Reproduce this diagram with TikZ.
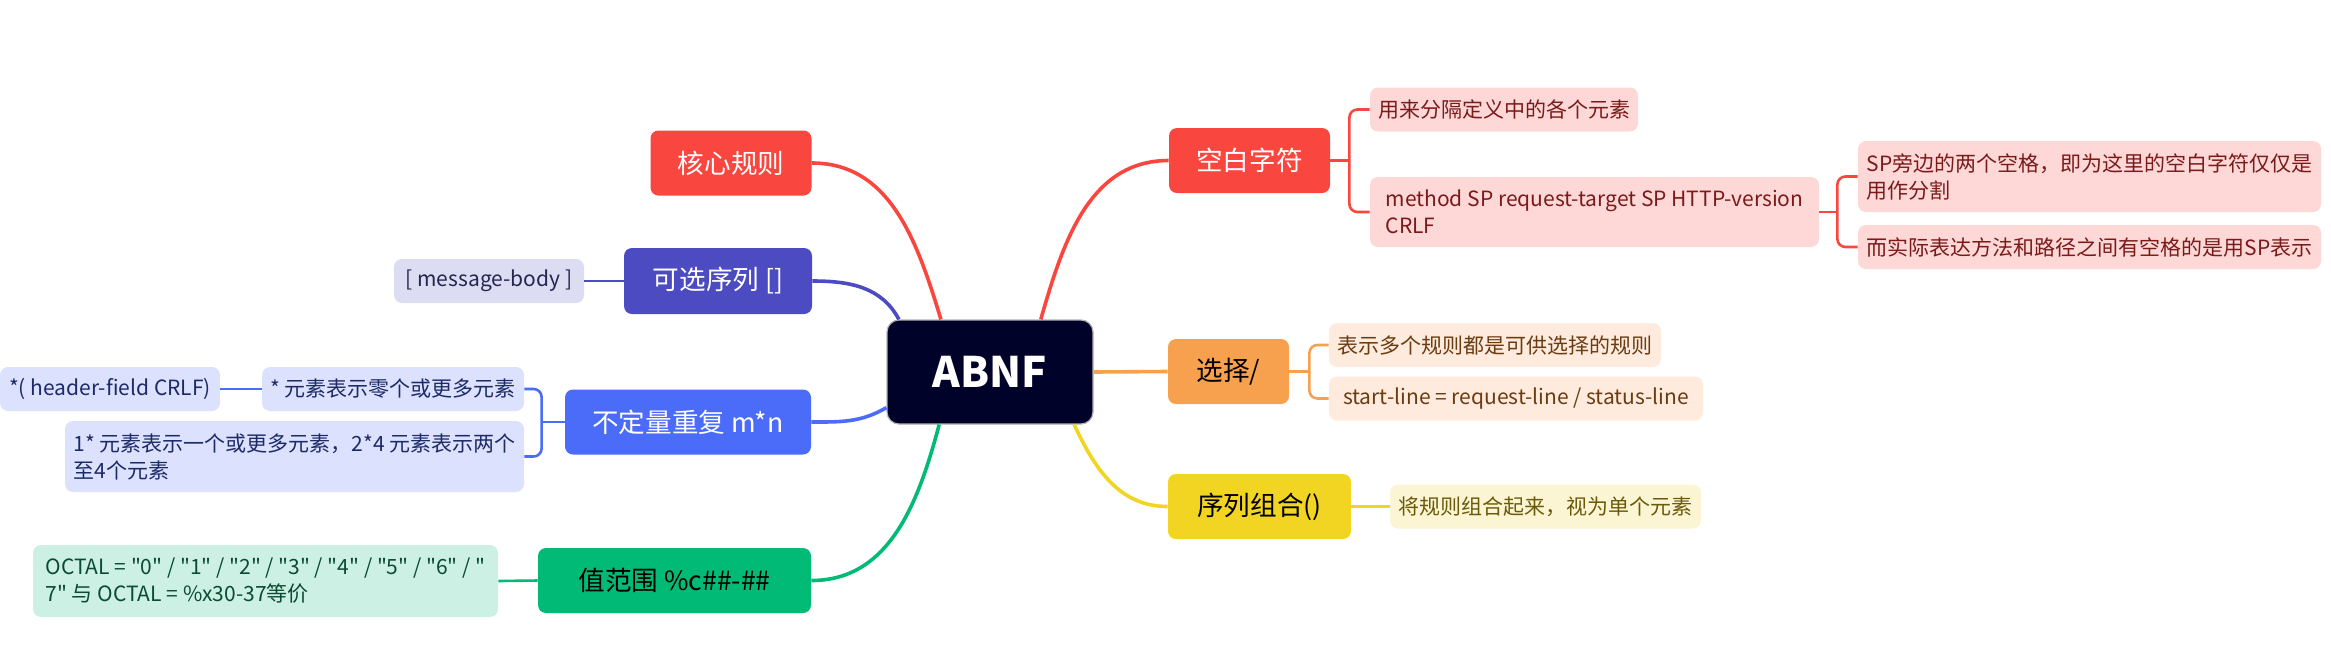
\documentclass[tikz,border=0pt]{standalone}
\usepackage{fontspec}
\newfontfamily\mapfont{Noto Sans CJK SC}
\usepackage{tikz}
\definecolor{MapRoot}{HTML}{000229}
\definecolor{MapRed}{HTML}{F9473F}
\definecolor{MapIndigo}{HTML}{4C4BC2}
\definecolor{MapBlue}{HTML}{4B6CF8}
\definecolor{MapGreen}{HTML}{00BA76}
\definecolor{MapOrange}{HTML}{F7A14F}
\definecolor{MapYellow}{HTML}{F2D422}
\definecolor{MapRedL}{HTML}{FED8D7}
\definecolor{MapIndigoL}{HTML}{DCDCF2}
\definecolor{MapBlueL}{HTML}{DCE2FD}
\definecolor{MapGreenL}{HTML}{CCF1E4}
\definecolor{MapOrangeL}{HTML}{FEEBDD}
\definecolor{MapYellowL}{HTML}{FCF5D3}
\definecolor{MapRedT}{HTML}{7A1A1A}
\definecolor{MapIndigoT}{HTML}{25254F}
\definecolor{MapBlueT}{HTML}{1C2A68}
\definecolor{MapGreenT}{HTML}{0B4A33}
\definecolor{MapOrangeT}{HTML}{6B3B12}
\definecolor{MapYellowT}{HTML}{6A5A0A}

\begin{document}
\begin{tikzpicture}[x=0.5pt,y=-0.5pt,
   root/.style={fill=MapRoot,draw=gray!60,line width=0.6pt,text=white,rounded corners=6pt,minimum width=103pt,minimum height=52pt,font=\mapfont\bfseries\fontsize{21}{25}\selectfont},
   topic/.style n args={3}{fill=#1,text=#2,minimum width=#3,minimum height=32.5pt,rounded corners=4pt,font=\mapfont\fontsize{13.3}{16}\selectfont},
   sub/.style n args={3}{fill=#1,text=#2,minimum width=#3,minimum height=22pt,rounded corners=4pt,align=left,font=\mapfont\fontsize{10.5}{13.5}\selectfont},
   link/.style={#1,line width=1.8pt},
   brk/.style={#1,line width=1.3pt,rounded corners=4pt}]
\useasboundingbox (0,0) rectangle (2331,660);
\node[root] (root) at (990,372) {ABNF};
% left side
\node[topic={MapRed}{white}{80.5pt}] (hx) at (731,163) {核心规则};
\node[topic={MapIndigo}{white}{94pt},minimum height=33pt] (kx) at (718,281) {可选序列 []};
\node[sub={MapIndigoL}{MapIndigoT}{95pt}] (mb) at (489,281) {[ message-body ]};
\node[topic={MapBlue}{white}{123pt}] (bd) at (688,422) {不定量重复 m*n};
\node[sub={MapBlueL}{MapBlueT}{131pt}] (r0) at (393,389) {* 元素表示零个或更多元素};
\node[sub={MapBlueL}{MapBlueT}{110pt}] (hf) at (110,389) {*( header-field CRLF)};
\node[sub={MapBlueL}{MapBlueT}{229.5pt},minimum height=35.5pt] (r1) at (294.5,456.5)
   {1* 元素表示一个或更多元素，2*4 元素表示两个\\至4个元素};
\node[topic={MapGreen}{black}{136.5pt}] (zf) at (674.5,580.5) {值范围 \%c\#\#-\#\#};
\node[sub={MapGreenL}{MapGreenT}{232.5pt},minimum height=36pt] (oc) at (265.5,581)
   {OCTAL = "0" / "1" / "2" / "3" / "4" / "5" / "6" / "\\7" 与 OCTAL = \%x30-37等价};
% right side
\node[topic={MapRed}{white}{80.5pt}] (kb) at (1249.5,160.5) {空白字符};
\node[sub={MapRedL}{MapRedT}{134pt}] (fg) at (1504,109.5) {用来分隔定义中的各个元素};
\node[sub={MapRedL}{MapRedT}{224.5pt},minimum height=35pt] (ms) at (1594.5,212)
   {method SP request-target SP HTTP-version\\CRLF};
\node[sub={MapRedL}{MapRedT}{231.5pt},minimum height=35.5pt] (sp) at (2089.5,176.5)
   {SP旁边的两个空格，即为这里的空白字符仅仅是\\用作分割};
\node[sub={MapRedL}{MapRedT}{231.5pt}] (sj) at (2089.5,247) {而实际表达方法和路径之间有空格的是用SP表示};
\node[topic={MapOrange}{black}{60.5pt}] (xz) at (1228.5,371.5) {选择/};
\node[sub={MapOrangeL}{MapOrangeT}{166pt}] (dg) at (1495,345) {表示多个规则都是可供选择的规则};
\node[sub={MapOrangeL}{MapOrangeT}{187pt}] (sl) at (1516,398.5) {start-line = request-line / status-line};
\node[topic={MapYellow}{black}{91.5pt}] (zh) at (1259.5,506.5) {序列组合()};
\node[sub={MapYellowL}{MapYellowT}{155.5pt}] (jg) at (1545.5,506.5) {将规则组合起来，视为单个元素};
% branches
\draw[link=MapRed] (root.133) to[out=107,in=0] (hx.east);
\draw[link=MapIndigo] (root.150) to[out=118,in=0] (kx.east);
\draw[link=MapBlue] (root.199) to[out=210,in=0] (bd.east);
\draw[link=MapGreen] (root.226) to[out=255,in=0] (zf.east);
\draw[link=MapRed] (root.46) to[out=74,in=180] (kb.west);
\draw[link=MapOrange] (root.east) -- (xz.west);
\draw[link=MapYellow] (root.-32) to[out=-65,in=180] (zh.west);
\draw[brk=MapIndigo] (kx.west) -- (mb.east);
\draw[brk=MapBlue] (bd.west) -- ++(-23,0) coordinate (bdj);
\draw[brk=MapBlue] (bdj) |- (r0.east) (bdj) |- (r1.east);
\draw[brk=MapBlue] (r0.west) -- (hf.east);
\draw[brk=MapGreen] (zf.west) -- (oc.east);
\draw[brk=MapRed] (kb.east) -- ++(19,0) coordinate (kbj);
\draw[brk=MapRed] (kbj) |- (fg.west) (kbj) |- (ms.west);
\draw[brk=MapRed] (ms.east) -- ++(18,0) coordinate (msj);
\draw[brk=MapRed] (msj) |- (sp.west) (msj) |- (sj.west);
\draw[brk=MapOrange] (xz.east) -- ++(20,0) coordinate (xzj);
\draw[brk=MapOrange] (xzj) |- (dg.west) (xzj) |- (sl.west);
\draw[brk=MapYellow] (zh.east) -- (jg.west);
\end{tikzpicture}
\end{document}
